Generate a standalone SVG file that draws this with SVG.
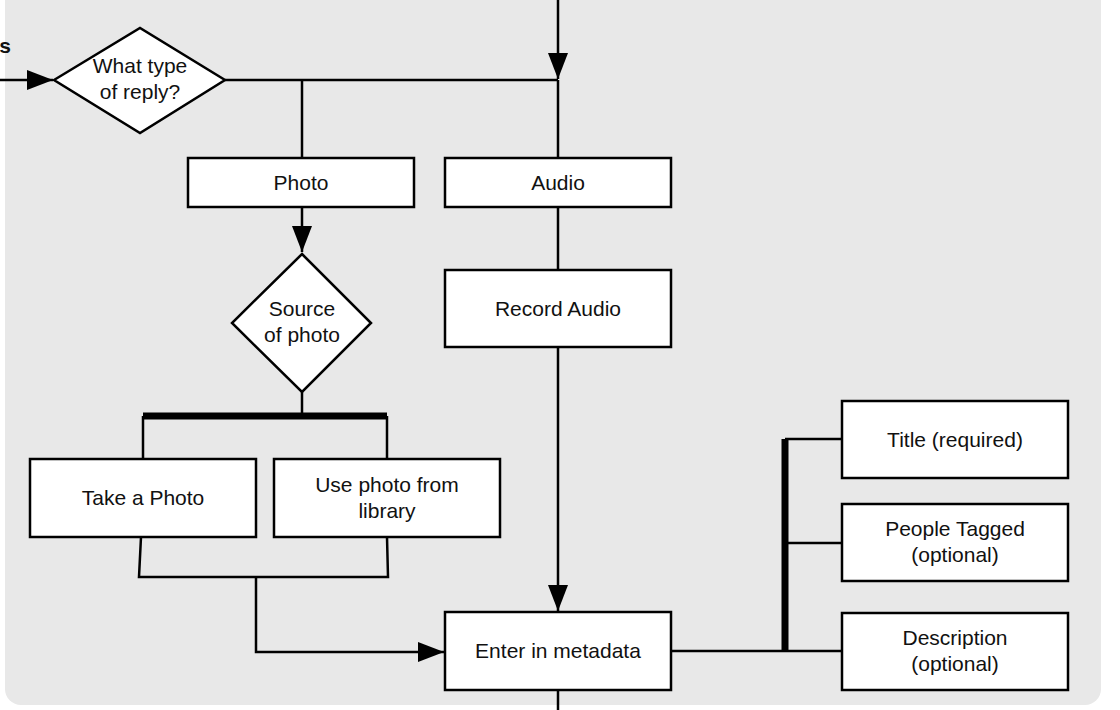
<svg xmlns="http://www.w3.org/2000/svg" width="1120" height="710" viewBox="0 0 1120 710">
<defs>
<marker id="ah" markerUnits="userSpaceOnUse" markerWidth="27" markerHeight="20" refX="26" refY="10" orient="auto">
<path d="M0,0 L26,10 L0,20 Z" fill="#000"/>
</marker>
<style>
.box{fill:#fff;stroke:#000;stroke-width:2.5}
.t{font-family:"Liberation Sans",Arial,sans-serif;font-size:21px;fill:#111;text-anchor:middle}
.c{fill:none;stroke:#000;stroke-width:2.5}
.bar{fill:none;stroke:#000;stroke-width:7}
</style>
</defs>
<rect x="0" y="0" width="1120" height="710" fill="#fff"/>
<rect x="5" y="-30" width="1096" height="735" rx="16" ry="16" fill="#e8e8e8"/>
<text x="11" y="53" font-family="Liberation Sans, Arial, sans-serif" font-size="21" font-weight="bold" text-anchor="end" fill="#111">s</text>
<g id="connectors">
<path class="c" d="M0,80 L53,80" marker-end="url(#ah)"/>
<path class="c" d="M225,80 L558,80"/>
<path class="c" d="M558,0 L558,79" marker-end="url(#ah)"/>
<path class="c" d="M302,80 L302,158"/>
<path class="c" d="M558,80 L558,158"/>
<path class="c" d="M558,207 L558,270"/>
<path class="c" d="M302,207 L302,252" marker-end="url(#ah)"/>
<path class="c" d="M302,392 L302,416"/>
<path class="bar" d="M143,416 L387,416"/>
<path class="c" d="M143,416 L143,459"/>
<path class="c" d="M387,416 L387,459"/>
<path class="c" d="M141,537 L139,577 L388,577 L387,537"/>
<path class="c" d="M256,577 L256,652 L444,652" marker-end="url(#ah)"/>
<path class="c" d="M558,347 L558,611" marker-end="url(#ah)"/>
<path class="c" d="M558,690 L558,710"/>
<path class="c" d="M671,651 L785,651"/>
<path class="bar" d="M785,439 L785,651"/>
<path class="c" d="M785,439 L842,439"/>
<path class="c" d="M785,543 L842,543"/>
<path class="c" d="M785,651 L842,651"/>
</g>
<g id="n-reply-type">
<polygon class="box" points="54,80 140,28 225,80 140,133"/>
<text class="t" x="140" y="73">What type</text>
<text class="t" x="140" y="99">of reply?</text>
</g>
<g id="n-photo">
<rect class="box" x="188" y="158" width="226" height="49"/>
<text class="t" x="301" y="190">Photo</text>
</g>
<g id="n-audio">
<rect class="box" x="445" y="158" width="226" height="49"/>
<text class="t" x="558" y="190">Audio</text>
</g>
<g id="n-source">
<polygon class="box" points="302,254 371,323 302,392 232,323"/>
<text class="t" x="302" y="316">Source</text>
<text class="t" x="302" y="342">of photo</text>
</g>
<g id="n-record">
<rect class="box" x="445" y="270" width="226" height="77"/>
<text class="t" x="558" y="316">Record Audio</text>
</g>
<g id="n-take">
<rect class="box" x="30" y="459" width="226" height="78"/>
<text class="t" x="143" y="505">Take a Photo</text>
</g>
<g id="n-library">
<rect class="box" x="274" y="459" width="226" height="78"/>
<text class="t" x="387" y="492">Use photo from</text>
<text class="t" x="387" y="518">library</text>
</g>
<g id="n-metadata">
<rect class="box" x="445" y="612" width="226" height="78"/>
<text class="t" x="558" y="658">Enter in metadata</text>
</g>
<g id="n-title">
<rect class="box" x="842" y="401" width="226" height="77"/>
<text class="t" x="955" y="447">Title (required)</text>
</g>
<g id="n-people">
<rect class="box" x="842" y="504" width="226" height="77"/>
<text class="t" x="955" y="536">People Tagged</text>
<text class="t" x="955" y="562">(optional)</text>
</g>
<g id="n-description">
<rect class="box" x="842" y="613" width="226" height="77"/>
<text class="t" x="955" y="645">Description</text>
<text class="t" x="955" y="671">(optional)</text>
</g>
</svg>
